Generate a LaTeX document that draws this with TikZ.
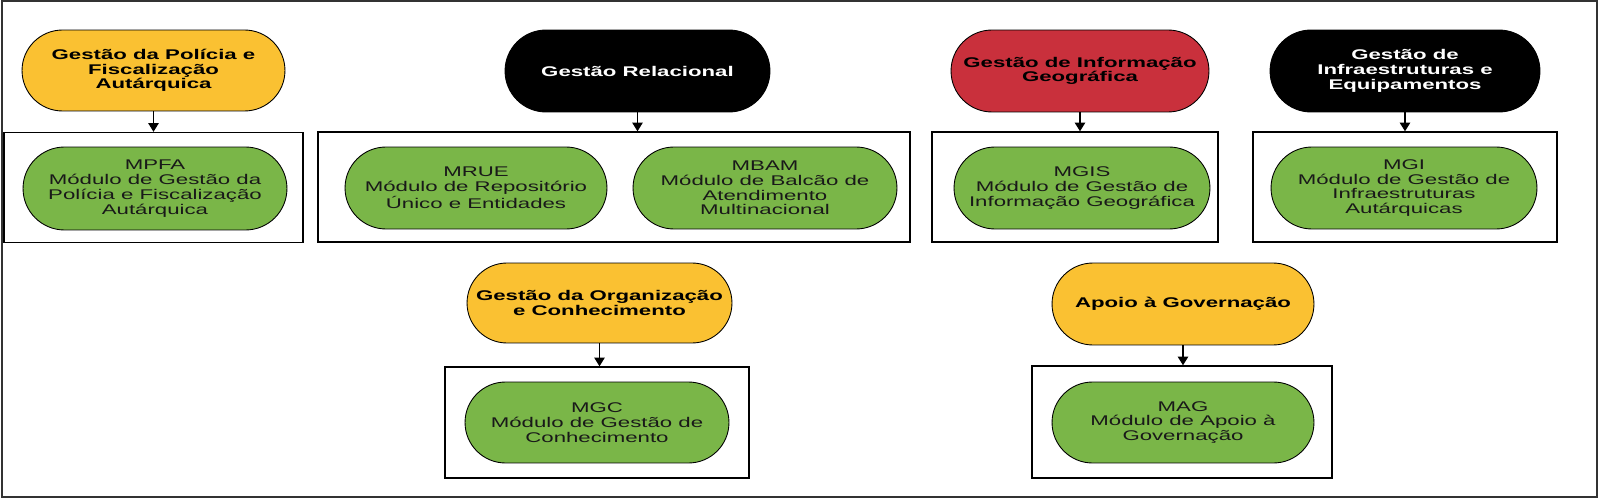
\documentclass[tikz,border=0pt]{standalone}
\usepackage{fontspec}
\setmainfont{Liberation Sans}[FakeStretch=1.58]
\usetikzlibrary{shapes.misc, arrows.meta}

\definecolor{amarelo}{RGB}{250,193,50}
\definecolor{verde}{RGB}{122,182,72}
\definecolor{vermelho}{RGB}{201,48,60}

\begin{document}
\begin{tikzpicture}[x=0.02cm, y=-0.02cm,
	font=\fontsize{8pt}{8.4pt}\selectfont,
	pilula/.style={rounded rectangle, draw=black, line width=0.5pt, inner sep=0pt, align=center,
		minimum width=5.28cm, minimum height=1.64cm},
	titulo/.style={pilula, font=\fontsize{8pt}{8.4pt}\selectfont\bfseries},
	modulo/.style={pilula, fill=verde, text=black!90},
	caixa/.style={draw=black, line width=0.8pt, inner sep=0pt, minimum height=2.2cm},
	seta/.style={-{Triangle[length=5pt, width=6pt]}, line width=0.7pt}]
		\useasboundingbox (0,0) rectangle (1600,500);
		% 外枠
		\draw [line width=1.1pt, draw=black!80] (2,1) rectangle (1597,497);
		% 上段の枠
		\node [caixa, minimum width=5.98cm] (cPF) at (153.5,187.5) {};
		\node [caixa, minimum width=11.84cm] (cRel) at (614,187) {};
		\node [caixa, minimum width=5.72cm] (cGIS) at (1075,187) {};
		\node [caixa, minimum width=6.08cm] (cInf) at (1405,187) {};
		% 下段の枠
		\node [caixa, minimum width=6.08cm, minimum height=2.22cm] (cOrg) at (597,422.5) {};
		\node [caixa, minimum width=6cm, minimum height=2.24cm] (cGov) at (1182,422) {};
		% 上段の楕円
		\node [titulo, fill=amarelo, minimum width=5.26cm, minimum height=1.62cm] (oPF) at (153.5,70.5)
			{Gestão da Polícia e\\Fiscalização\\Autárquica};
		\node [titulo, fill=black, text=white, minimum width=5.3cm] (oRel) at (637.5,71) {Gestão Relacional};
		\node [titulo, fill=vermelho, minimum width=5.16cm] (oGIS) at (1080,71) {Gestão de Informação\\Geográfica};
		\node [titulo, fill=black, text=white, minimum width=5.4cm] (oInf) at (1405,71)
			{Gestão de\\Infraestruturas e\\Equipamentos};
		% 下段の楕円
		\node [titulo, fill=amarelo, minimum width=5.3cm, minimum height=1.6cm] (oOrg) at (599.5,303)
			{Gestão da Organização\\e Conhecimento};
		\node [titulo, fill=amarelo, minimum width=5.24cm] (oGov) at (1183,304) {Apoio à Governação};
		% モジュール
		\node [modulo, minimum height=1.66cm] (mPFA) at (155,188.5)
			{MPFA\\Módulo de Gestão da\\Polícia e Fiscalização\\Autárquica};
		\node [modulo, minimum width=5.24cm] (mRUE) at (476,188) {MRUE\\Módulo de Repositório\\Único e Entidades};
		\node [modulo] (mBAM) at (765,188) {MBAM\\Módulo de Balcão de\\Atendimento\\Multinacional};
		\node [modulo, minimum width=5.12cm] (mGIS) at (1082,188) {MGIS\\Módulo de Gestão de\\Informação Geográfica};
		\node [modulo, minimum width=5.32cm] (mGI) at (1404,188)
			{MGI\\Módulo de Gestão de\\Infraestruturas\\Autárquicas};
		\node [modulo, minimum height=1.62cm] (mGC) at (597,422.5) {MGC\\Módulo de Gestão de\\Conhecimento};
		\node [modulo, minimum width=5.24cm, minimum height=1.62cm] (mAG) at (1183,422.5)
			{MAG\\Módulo de Apoio à\\Governação};
		% 矢印
		\foreach \o/\c in {oPF/cPF, oRel/cRel, oGIS/cGIS, oInf/cInf, oOrg/cOrg, oGov/cGov}
			\draw [seta] (\o.south) -- (\o.south |- \c.north);
	\end{tikzpicture}
\end{document}
